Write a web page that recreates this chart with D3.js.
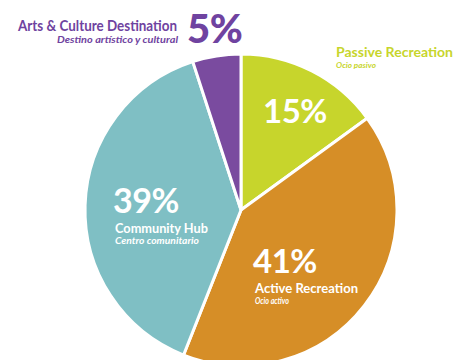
<!DOCTYPE html>
<html>
<head>
<meta charset="utf-8">
<script src="https://cdn.jsdelivr.net/npm/d3@7/dist/d3.min.js"></script>
<style>
  html, body { margin: 0; padding: 0; background: #ffffff; }
  svg { display: block; }
  text { font-family: Lato, "Open Sans", sans-serif; }
</style>
</head>
<body>
<svg id="chart" width="455" height="360"></svg>
<script>
// Share of proposed uses, clockwise from 12 o'clock
const categories = ["Passive Recreation", "Active Recreation", "Community Hub", "Arts & Culture Destination"];
const subtitles = ["Ocio pasivo", "Ocio activo", "Centro comunitario", "Destino artístico y cultural"];
const shares = [15, 41, 39, 5];
const colors = ["#c7d52c", "#d68e27", "#7fbfc4", "#7a4b9f"];

const svg = d3.select("#chart");
const cx = 241, cy = 210, radius = 156;

const pie = d3.pie().sort(null).value(d => d.value).startAngle(0).endAngle(2 * Math.PI);
const arc = d3.arc().innerRadius(0).outerRadius(radius);

const data = categories.map((c, i) => ({ name: c, sub: subtitles[i], value: shares[i], color: colors[i] }));
const arcs = pie(data);

const g = svg.append("g").attr("transform", `translate(${cx},${cy})`);
g.selectAll("path.slice")
  .data(arcs)
  .join("path")
  .attr("class", "slice")
  .attr("d", arc)
  .attr("fill", d => d.data.color)
  .attr("stroke", "#ffffff")
  .attr("stroke-width", 3)
  .attr("stroke-linejoin", "round");

const pct = v => `${v}%`;

// Text helper; a fixed width keeps each caption to its measured span
function label(x, y, txt, opts) {
  const t = svg.append("text")
    .attr("x", x).attr("y", y)
    .attr("fill", opts.fill)
    .attr("font-size", opts.size)
    .attr("font-weight", opts.weight || 700)
    .attr("font-style", opts.italic ? "italic" : "normal")
    .attr("text-anchor", opts.anchor || "start")
    .text(txt);
  if (opts.width) t.attr("textLength", opts.width).attr("lengthAdjust", "spacingAndGlyphs");
  if (opts.ls != null) t.attr("letter-spacing", opts.ls);
  return t;
}

// Labels inside the larger slices (white)
const inner = [
  { i: 0, x: 263, y: 123, big: 33 },
  { i: 2, x: 113, y: 213, big: 34, nameW: 93, subW: 84 },
  { i: 1, x: 253, y: 273, big: 33, nameW: 103, subW: 34 }
];
inner.forEach(l => {
  const d = data[l.i];
  label(l.x, l.y, pct(d.value), { fill: "#ffffff", size: l.big, weight: 700, ls: -0.5 });
  if (l.nameW) {
    label(l.x + 2, l.y + 19.5, d.name, { fill: "#ffffff", size: 13, weight: 700, width: l.nameW });
    label(l.x + 2, l.y + 31, d.sub, { fill: "#ffffff", size: 8.5, weight: 700, italic: true, width: l.subW });
  }
});

// Passive Recreation caption, outside upper right
label(336, 57, categories[0], { fill: colors[0], size: 13.5, weight: 700, width: 117 });
label(336, 67.5, subtitles[0], { fill: colors[0], size: 8, weight: 700, italic: true, width: 40 });

// Arts & Culture caption with its share, outside upper left
const purpleText = "#6f43a0";
label(18, 31, categories[3], { fill: purpleText, size: 14.5, weight: 700, width: 159 });
label(57, 43, subtitles[3], { fill: purpleText, size: 9, weight: 700, italic: true, width: 121 });
label(187, 43, pct(shares[3]), { fill: purpleText, size: 40, weight: 900, ls: -0.5 });
</script>
</body>
</html>
